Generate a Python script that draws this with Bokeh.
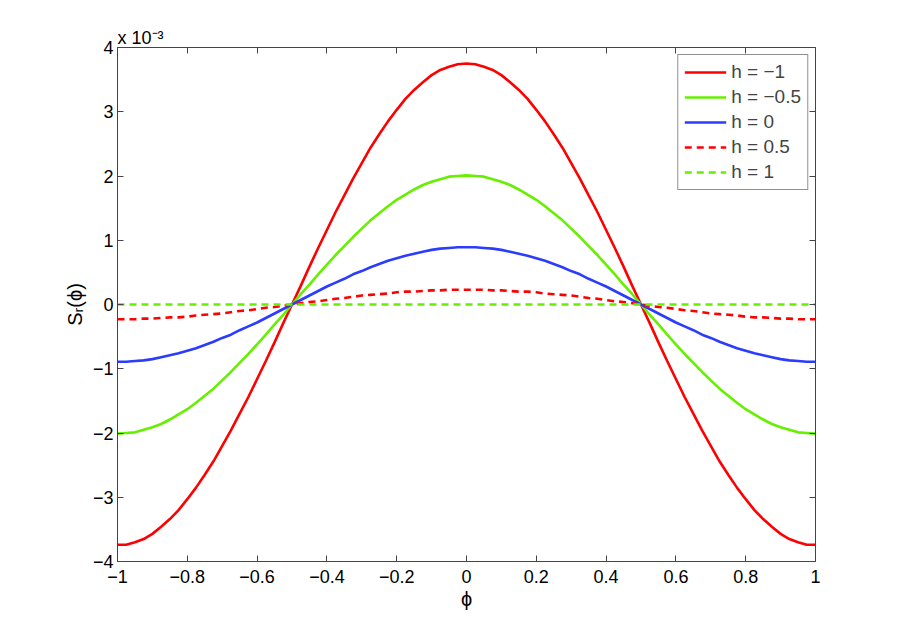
from bokeh.plotting import figure
from bokeh.models import LinearAxis, FixedTicker, Legend, LegendItem, Title
from bokeh.embed import file_html
from bokeh.resources import INLINE

phi = [-1.000, -0.975, -0.950, -0.925, -0.900, -0.875, -0.850, -0.825, -0.800, -0.775,
       -0.750, -0.725, -0.700, -0.675, -0.650, -0.625, -0.600, -0.575, -0.550, -0.525,
       -0.500, -0.475, -0.450, -0.425, -0.400, -0.375, -0.350, -0.325, -0.300, -0.275,
       -0.250, -0.225, -0.200, -0.175, -0.150, -0.125, -0.100, -0.075, -0.050, -0.025,
       0.000,
       0.025, 0.050, 0.075, 0.100, 0.125, 0.150, 0.175, 0.200, 0.225, 0.250,
       0.275, 0.300, 0.325, 0.350, 0.375, 0.400, 0.425, 0.450, 0.475, 0.500,
       0.525, 0.550, 0.575, 0.600, 0.625, 0.650, 0.675, 0.700, 0.725, 0.750,
       0.775, 0.800, 0.825, 0.850, 0.875, 0.900, 0.925, 0.950, 0.975, 1.000]

s_hm1 = [-3.74, -3.74, -3.70, -3.65, -3.57, -3.46, -3.34, -3.20, -3.03, -2.85,
         -2.65, -2.44, -2.20, -1.96, -1.70, -1.44, -1.16, -0.88, -0.59, -0.29,
         0.00, 0.29, 0.59, 0.88, 1.16, 1.44, 1.70, 1.96, 2.20, 2.44,
         2.65, 2.85, 3.03, 3.20, 3.34, 3.46, 3.57, 3.65, 3.70, 3.74,
         3.75,
         3.74, 3.70, 3.65, 3.57, 3.46, 3.34, 3.20, 3.03, 2.85, 2.65,
         2.44, 2.20, 1.96, 1.70, 1.44, 1.16, 0.88, 0.59, 0.29, 0.00,
         -0.29, -0.59, -0.88, -1.16, -1.44, -1.70, -1.96, -2.20, -2.44, -2.65,
         -2.85, -3.03, -3.20, -3.34, -3.46, -3.57, -3.65, -3.70, -3.74, -3.74]
s_hm05 = [-2.01, -2.00, -1.99, -1.95, -1.91, -1.86, -1.79, -1.71, -1.63, -1.53,
          -1.42, -1.31, -1.18, -1.05, -0.91, -0.77, -0.62, -0.47, -0.31, -0.16,
          0.00, 0.16, 0.31, 0.47, 0.62, 0.77, 0.91, 1.05, 1.18, 1.31,
          1.42, 1.53, 1.63, 1.71, 1.79, 1.86, 1.91, 1.95, 1.99, 2.00,
          2.01,
          2.00, 1.99, 1.95, 1.91, 1.86, 1.79, 1.71, 1.63, 1.53, 1.42,
          1.31, 1.18, 1.05, 0.91, 0.77, 0.62, 0.47, 0.31, 0.16, 0.00,
          -0.16, -0.31, -0.47, -0.62, -0.77, -0.91, -1.05, -1.18, -1.31, -1.42,
          -1.53, -1.63, -1.71, -1.79, -1.86, -1.91, -1.95, -1.99, -2.00, -2.01]
s_h0 = [-0.89, -0.89, -0.88, -0.87, -0.85, -0.82, -0.79, -0.76, -0.72, -0.68,
        -0.63, -0.58, -0.52, -0.47, -0.40, -0.34, -0.28, -0.21, -0.14, -0.07,
        0.00, 0.07, 0.14, 0.21, 0.28, 0.34, 0.40, 0.47, 0.52, 0.58,
        0.63, 0.68, 0.72, 0.76, 0.79, 0.82, 0.85, 0.87, 0.88, 0.89,
        0.89,
        0.89, 0.88, 0.87, 0.85, 0.82, 0.79, 0.76, 0.72, 0.68, 0.63,
        0.58, 0.52, 0.47, 0.40, 0.34, 0.28, 0.21, 0.14, 0.07, 0.00,
        -0.07, -0.14, -0.21, -0.28, -0.34, -0.40, -0.47, -0.52, -0.58, -0.63,
        -0.68, -0.72, -0.76, -0.79, -0.82, -0.85, -0.87, -0.88, -0.89, -0.89]
s_h05 = [-0.23, -0.23, -0.23, -0.22, -0.22, -0.21, -0.20, -0.20, -0.19, -0.17,
         -0.16, -0.15, -0.14, -0.12, -0.10, -0.09, -0.07, -0.05, -0.04, -0.02,
         0.00, 0.02, 0.04, 0.05, 0.07, 0.09, 0.10, 0.12, 0.14, 0.15,
         0.16, 0.17, 0.19, 0.20, 0.20, 0.21, 0.22, 0.22, 0.23, 0.23,
         0.23,
         0.23, 0.23, 0.22, 0.22, 0.21, 0.20, 0.20, 0.19, 0.17, 0.16,
         0.15, 0.14, 0.12, 0.10, 0.09, 0.07, 0.05, 0.04, 0.02, 0.00,
         -0.02, -0.04, -0.05, -0.07, -0.09, -0.10, -0.12, -0.14, -0.15, -0.16,
         -0.17, -0.19, -0.20, -0.20, -0.21, -0.22, -0.22, -0.23, -0.23, -0.23]
s_h1 = [0.00, 0.00, 0.00, 0.00, 0.00, 0.00, 0.00, 0.00, 0.00, 0.00,
        0.00, 0.00, 0.00, 0.00, 0.00, 0.00, 0.00, 0.00, 0.00, 0.00,
        0.00, 0.00, 0.00, 0.00, 0.00, 0.00, 0.00, 0.00, 0.00, 0.00,
        0.00, 0.00, 0.00, 0.00, 0.00, 0.00, 0.00, 0.00, 0.00, 0.00,
        0.00,
        0.00, 0.00, 0.00, 0.00, 0.00, 0.00, 0.00, 0.00, 0.00, 0.00,
        0.00, 0.00, 0.00, 0.00, 0.00, 0.00, 0.00, 0.00, 0.00, 0.00,
        0.00, 0.00, 0.00, 0.00, 0.00, 0.00, 0.00, 0.00, 0.00, 0.00,
        0.00, 0.00, 0.00, 0.00, 0.00, 0.00, 0.00, 0.00, 0.00, 0.00]

series_labels = ["h = \u22121", "h = \u22120.5", "h = 0", "h = 0.5", "h = 1"]
x_ticks = [-1, -0.8, -0.6, -0.4, -0.2, 0, 0.2, 0.4, 0.6, 0.8, 1]
x_tick_labels = ["\u22121", "\u22120.8", "\u22120.6", "\u22120.4", "\u22120.2", "0",
                 "0.2", "0.4", "0.6", "0.8", "1"]
y_ticks = [-4, -3, -2, -1, 0, 1, 2, 3, 4]
y_tick_labels = ["\u22124", "\u22123", "\u22122", "\u22121", "0", "1", "2", "3", "4"]
x_label = "\u03d5"
y_label = "S\u1d63(\u03d5)"
multiplier = "x 10\u207b\u00b3"

FONT = "Liberation Sans"
AX = "#444444"

p = figure(width=891, height=623, x_range=(-1, 1), y_range=(-4, 4),
           output_backend="svg", toolbar_location=None,
           min_border_left=117, min_border_right=76, min_border_top=47, min_border_bottom=62,
           x_axis_location=None, y_axis_location=None)
p.outline_line_color = None
p.xgrid.visible = False
p.ygrid.visible = False
p.background_fill_color = "white"
p.border_fill_color = "white"


def labelled_axis(ticks, labels):
    ax = LinearAxis(ticker=FixedTicker(ticks=ticks),
                    major_label_overrides={t: l for t, l in zip(ticks, labels)})
    ax.major_tick_in = 6
    ax.major_tick_out = 0
    ax.minor_tick_in = 0
    ax.minor_tick_out = 0
    ax.axis_line_color = AX
    ax.major_tick_line_color = AX
    ax.major_label_text_font = FONT
    ax.major_label_text_font_size = "18px"
    ax.major_label_text_color = "black"
    ax.axis_label_text_font = FONT
    ax.axis_label_text_font_style = "normal"
    ax.axis_label_text_color = "black"
    return ax


def tick_only_axis(ticks):
    ax = LinearAxis(ticker=FixedTicker(ticks=[], minor_ticks=ticks))
    ax.major_tick_in = 0
    ax.major_tick_out = 0
    ax.minor_tick_in = 6
    ax.minor_tick_out = 0
    ax.axis_line_color = AX
    ax.minor_tick_line_color = AX
    return ax


xb = labelled_axis(x_ticks, x_tick_labels)
xb.major_label_standoff = 8
xb.axis_label = x_label
xb.axis_label_text_font_size = "20px"
xb.axis_label_standoff = 2
yl = labelled_axis(y_ticks, y_tick_labels)
yl.major_label_standoff = 4
yl.axis_label = y_label
yl.axis_label_text_font_size = "20px"
yl.axis_label_standoff = 4
p.add_layout(xb, "below")
p.add_layout(yl, "left")
p.add_layout(tick_only_axis(x_ticks), "above")
p.add_layout(tick_only_axis(y_ticks), "right")

RED = "#ff0000"
GREEN = "#66f000"
BLUE = "#2b3cff"
LW = 2.6
DASH = "7 5"

r1 = p.line(phi, s_hm1, line_color=RED, line_width=LW)
r2 = p.line(phi, s_hm05, line_color=GREEN, line_width=LW)
r3 = p.line(phi, s_h0, line_color=BLUE, line_width=LW)
r4 = p.line(phi, s_h05, line_color=RED, line_width=LW, line_dash=DASH)
r5 = p.line(phi, s_h1, line_color=GREEN, line_width=LW, line_dash=DASH)

legend = Legend(items=[LegendItem(label=lab, renderers=[r])
                       for lab, r in zip(series_labels, [r1, r2, r3, r4, r5])],
                location="top_right")
legend.margin = 7
legend.padding = 6
legend.spacing = 3
legend.label_height = 20
legend.glyph_height = 20
legend.glyph_width = 42
legend.label_standoff = 5
legend.label_text_font = FONT
legend.label_text_font_size = "19px"
legend.label_text_baseline = "middle"
legend.border_line_color = "#222222"
legend.border_line_width = 1
legend.background_fill_color = "white"
legend.background_fill_alpha = 1
p.add_layout(legend, "center")

title = Title(text=multiplier, align="left", text_font=FONT, text_font_size="18px",
              text_font_style="normal", text_color="black", standoff=0, offset=0)
p.add_layout(title, "above")

open("out.html", "w").write(file_html(p, INLINE))
